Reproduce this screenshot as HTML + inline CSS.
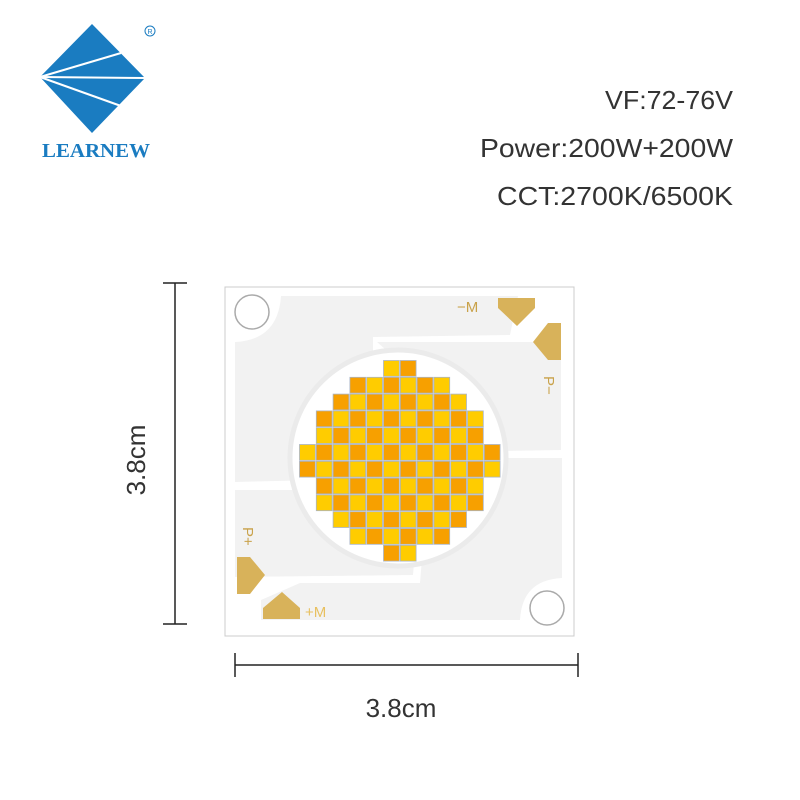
<!DOCTYPE html>
<html><head><meta charset="utf-8"><style>html,body{margin:0;padding:0;background:#fff}svg{display:block}</style></head>
<body>
<svg width="800" height="800" viewBox="0 0 800 800" xmlns="http://www.w3.org/2000/svg" font-family="Liberation Sans, sans-serif">
<rect width="800" height="800" fill="#fff"/>
<polygon points="92,24 145,78 92,133 40,77" fill="#1a7cc1"/>
<line x1="40" y1="77" x2="121" y2="53" stroke="#fff" stroke-width="2"/>
<line x1="40" y1="77" x2="146" y2="78" stroke="#fff" stroke-width="2"/>
<line x1="40" y1="77" x2="121" y2="106" stroke="#fff" stroke-width="2"/>
<circle cx="150" cy="31" r="5" fill="none" stroke="#1a7cc1" stroke-width="1"/>
<text x="150" y="34" font-size="7" fill="#1a7cc1" text-anchor="middle">R</text>
<text x="42" y="157" font-family="Liberation Serif, serif" font-size="20" font-weight="bold" fill="#1a7cc1" textLength="108" lengthAdjust="spacingAndGlyphs">LEARNEW</text>
<g fill="#333" font-size="26" text-anchor="end">
<text x="733" y="109" textLength="128" lengthAdjust="spacingAndGlyphs">VF:72-76V</text>
<text x="733" y="157" textLength="253" lengthAdjust="spacingAndGlyphs">Power:200W+200W</text>
<text x="733" y="205" textLength="236" lengthAdjust="spacingAndGlyphs">CCT:2700K/6500K</text>
</g>
<g stroke="#222" stroke-width="1.5">
<line x1="175" y1="283" x2="175" y2="624"/>
<line x1="163" y1="283" x2="187" y2="283"/>
<line x1="163" y1="624" x2="187" y2="624"/>
<line x1="235" y1="665" x2="578" y2="665"/>
<line x1="235" y1="653" x2="235" y2="677"/>
<line x1="578" y1="653" x2="578" y2="677"/>
</g>
<text x="0" y="0" font-size="26" fill="#333" text-anchor="middle" transform="translate(145,460) rotate(-90)">3.8cm</text>
<text x="401" y="717" font-size="26" fill="#333" text-anchor="middle">3.8cm</text>
<rect x="225" y="287" width="349" height="349" fill="#fff" stroke="#ccc" stroke-width="1"/>
<g fill="#f2f2f2">
<path d="M281,296 L518,296 L510,335 L373,337 L373,400 L320,480 L235,482 L235,342 Q278,340 281,296 Z"/>
<path d="M377,342 L561,342 L561,450 L435,452 L420,380 Z"/>
<path d="M235,490 L420,490 L413,575 L235,577 Z"/>
<path d="M430,458 L562,458 L562,578 Q522,580 520,620 L261,620 L261,600 L300,583 L420,583 Z"/>
</g>
<circle cx="252" cy="312" r="17" fill="#fff" stroke="#aaa" stroke-width="1.5"/>
<circle cx="547" cy="608" r="17" fill="#fff" stroke="#aaa" stroke-width="1.5"/>
<g fill="#d8b25a">
<polygon points="498,298 535,298 535,308 517,326 498,308"/>
<polygon points="561,323 561,360 548,360 533,342 548,323"/>
<polygon points="237,557 250,557 265,575 250,594 237,594"/>
<polygon points="263,608 282,592 300,608 300,619 263,619"/>
</g>
<g fill="#c9a24a" font-size="15">
<text x="457" y="312">−M</text>
<text x="305" y="617" fill="#e8c060">+M</text>
<text transform="translate(544,376) rotate(90)">P−</text>
<text transform="translate(243,527) rotate(90)">P+</text>
</g>
<circle cx="398" cy="458" r="108" fill="#fff" stroke="#ebebeb" stroke-width="5"/>
<g id="leds" stroke="#a9b4c8" stroke-width="0.8"></g>
<script>
var g=document.getElementById('leds');
var ranges=[[5,6],[3,8],[2,9],[1,10],[1,10],[0,11],[0,11],[1,10],[1,10],[2,9],[3,8],[5,6]];
var p=16.8,x0=299,y0=360;
for(var r=0;r<12;r++){for(var c=ranges[r][0];c<=ranges[r][1];c++){
var e=document.createElementNS('http://www.w3.org/2000/svg','rect');
e.setAttribute('x',x0+c*p+0.5);e.setAttribute('y',y0+r*p+0.5);
e.setAttribute('width',p-1);e.setAttribute('height',p-1);
e.setAttribute('fill',(r+c)%2==0?'#f7a000':'#ffcc00');g.appendChild(e);}}
</script>
</svg>
</body></html>
